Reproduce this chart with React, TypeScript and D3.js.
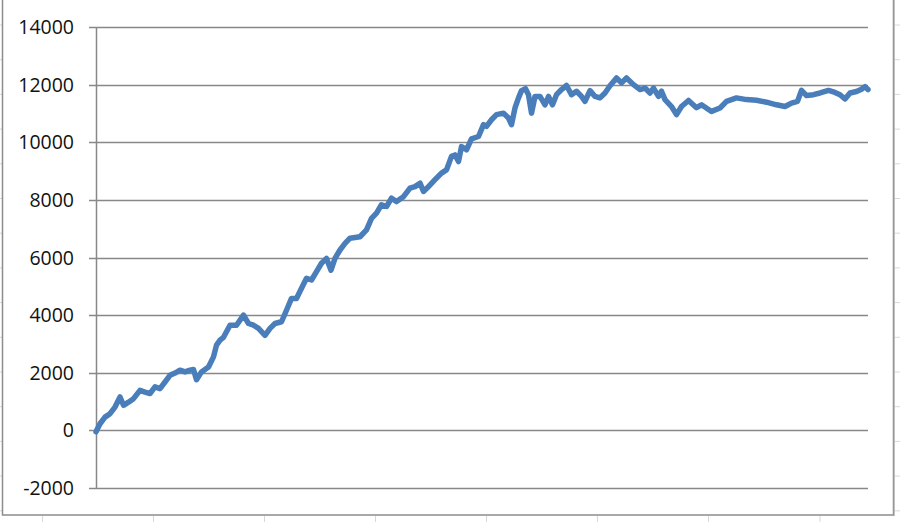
import * as d3 from "d3";

// equity curve: trading day index and running total
const days = [
  0, 8, 18, 28, 38, 48, 55, 65, 75, 88, 98, 108, 118, 128, 138, 148, 158, 168, 178, 188,
  195, 201, 211, 225, 235, 241, 248, 255, 268, 281, 295, 305, 315, 325, 338, 348, 358, 371, 381, 391,
  401, 411, 421, 431, 441, 451, 461, 470, 478, 488, 498, 508, 528, 541, 551, 561, 571, 581, 591, 601,
  615, 628, 638, 648, 655, 665, 678, 691, 701, 711, 718, 725, 731, 741, 751, 765, 775, 781, 791, 801,
  815, 825, 831, 838, 845, 851, 859, 865, 871, 878, 888, 898, 905, 913, 921, 931, 941, 951, 961, 971,
  978, 988, 998, 1008, 1018, 1028, 1041, 1051, 1061, 1075, 1088, 1098, 1108, 1115, 1125, 1131, 1138, 1151, 1161, 1171,
  1185, 1201, 1211, 1231, 1248, 1261, 1281, 1301, 1321, 1341, 1361, 1378, 1391, 1403, 1411, 1421, 1435, 1448, 1465, 1478,
  1488, 1498, 1508, 1521, 1531, 1538, 1544,
];
const equity = [
  -50, 230, 460, 580, 810, 1160, 870, 980, 1100, 1390, 1330, 1280, 1510, 1450, 1680, 1910, 1990, 2090, 2030, 2090,
  2110, 1760, 2030, 2200, 2550, 2960, 3130, 3230, 3650, 3650, 4000, 3710, 3650, 3540, 3300, 3540, 3710, 3770, 4170, 4580,
  4580, 4930, 5280, 5220, 5510, 5800, 5970, 5560, 5970, 6260, 6490, 6670, 6720, 6960, 7360, 7540, 7830, 7770, 8060, 7940,
  8110, 8410, 8460, 8580, 8290, 8460, 8700, 8930, 9040, 9510, 9560, 9330, 9850, 9740, 10120, 10200, 10610, 10550, 10780, 10960,
  11010, 10840, 10610, 11190, 11540, 11790, 11860, 11650, 11010, 11590, 11590, 11300, 11590, 11300, 11650, 11830, 11970, 11650, 11770, 11590,
  11420, 11790, 11590, 11540, 11710, 11960, 12230, 12060, 12230, 12000, 11830, 11880, 11710, 11880, 11590, 11770, 11480, 11240, 10960, 11240,
  11450, 11200, 11300, 11070, 11190, 11420, 11540, 11480, 11460, 11390, 11300, 11240, 11360, 11420, 11800, 11620, 11650, 11710, 11800, 11730,
  11650, 11500, 11710, 11760, 11840, 11930, 11830,
];
const yTicks = [-2000, 0, 2000, 4000, 6000, 8000, 10000, 12000, 14000];
// spreadsheet cell lines peeking around the chart object
const sheetCols = [42.5, 153.5, 264.5, 375.5, 486.5, 597.5, 708.5, 820];
const sheetRows = d3.range(0, 15).map((i) => 25 + i * 34.7);

const W = 900, H = 522;

export default function App() {
  const x = d3.scaleLinear().domain([0, 1544]).range([96, 868]);
  const y = d3.scaleLinear().domain([-2000, 14000]).range([488, 27]);
  const pts = days.map((d, i) => [d, equity[i]] as [number, number]);
  const line = d3.line<[number, number]>()
    .x((d) => x(d[0]))
    .y((d) => y(d[1]));

  return (
    <svg width={W} height={H} style={{ position: "absolute", left: 0, top: 0, display: "block", background: "#fff" }}>
      {/* sheet gridlines outside the chart */}
      {sheetCols.map((c) => (
        <g key={"c" + c}>
          <line x1={c} x2={c} y1={0} y2={2} stroke="#d4d8e0" />
          <line x1={c} x2={c} y1={516} y2={H} stroke="#d4d8e0" />
        </g>
      ))}
      {sheetRows.map((r) => (
        <g key={"r" + r}>
          <line x1={0} x2={2} y1={r} y2={r} stroke="#d4d8e0" />
          <line x1={895} x2={W} y1={r} y2={r} stroke="#d4d8e0" />
        </g>
      ))}
      {/* chart area border */}
      <rect x={2.5} y={-3} width={891} height={518} fill="#fff" stroke="#8c8c8c" strokeWidth={1.5} />
      <line x1={894} x2={894} y1={0} y2={516} stroke="#a0a0a0" strokeWidth={1} />

      {/* gridlines + labels */}
      {yTicks.map((t) => (
        <g key={t}>
          <line x1={89} x2={868} y1={Math.round(y(t)) + 0.5} y2={Math.round(y(t)) + 0.5} stroke="#888" strokeWidth={1.5} />
          <text
            x={74}
            y={y(t)}
            dy="0.36em"
            textAnchor="end"
            fontFamily="'Open Sans', 'Liberation Sans', sans-serif"
            fontSize={19.5}
            fill="#111"
          >
            {t}
          </text>
        </g>
      ))}
      <line x1={96.5} x2={96.5} y1={y(14000)} y2={y(-2000)} stroke="#888" strokeWidth={1.5} />

      <path
        d={line(pts) ?? ""}
        fill="none"
        stroke="#4a7ebb"
        strokeWidth={5.5}
        strokeLinejoin="round"
        strokeLinecap="round"
      />
    </svg>
  );
}
